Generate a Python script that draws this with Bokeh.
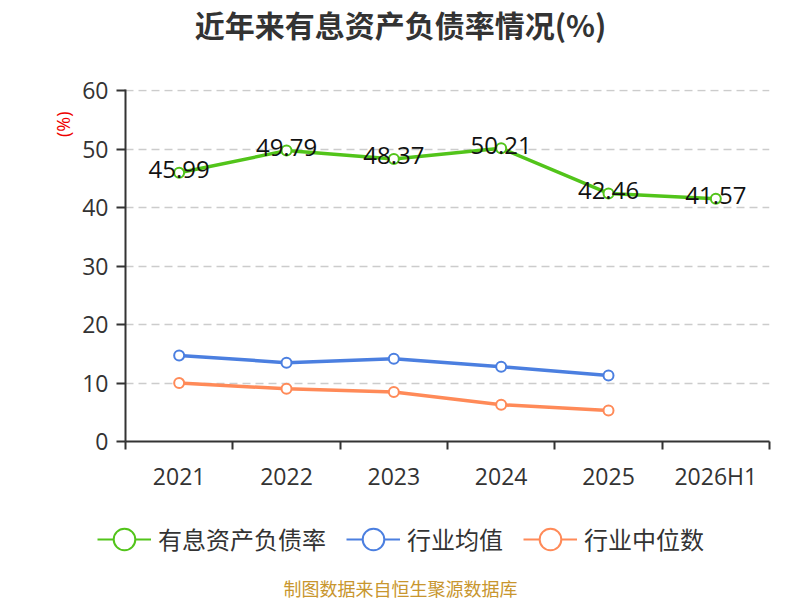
from bokeh.plotting import figure
from bokeh.layouts import column
from bokeh.models import Legend, LegendItem, FixedTicker, Range1d, Title, Label
from bokeh.core.properties import value
from bokeh.embed import file_html
from bokeh.resources import INLINE

categories = ["2021", "2022", "2023", "2024", "2025", "2026H1"]
debt_ratio = [45.99, 49.79, 48.37, 50.21, 42.46, 41.57]
industry_avg = [14.74, 13.49, 14.17, 12.80, 11.31]
industry_median = [10.00, 9.03, 8.46, 6.29, 5.31]
y_ticks = [0, 10, 20, 30, 40, 50, 60]
series_names = ["有息资产负债率", "行业均值", "行业中位数"]
title_text = "近年来有息资产负债率情况(%)"
source_text = "制图数据来自恒生聚源数据库"

GREEN = "#52c41a"
BLUE = "#4b7fe0"
ORANGE = "#ff8a58"
COLORS = [GREEN, BLUE, ORANGE]
CJK = "Noto Sans CJK SC"
NUM = "Open Sans"
W = 800
HEAD_H, MAIN_H, FOOT_H = 50, 450, 100


def blank_fig(h):
    f = figure(width=W, height=h, output_backend="svg", toolbar_location=None,
               x_range=Range1d(0, W), y_range=Range1d(0, h),
               x_axis_location=None, y_axis_location=None, min_border=0,
               frame_align=False)
    f.outline_line_color = None
    f.xgrid.visible = False
    f.ygrid.visible = False
    return f


# ---------- header (title) ----------
head = blank_fig(HEAD_H)
head.add_layout(Label(x=W / 2, y=HEAD_H - 23, text=title_text, text_align="center",
                      text_baseline="middle", text_font=CJK, text_font_size="30px",
                      text_font_style="bold", text_color="#333333"))

# ---------- main chart ----------
p = figure(width=W, height=MAIN_H, output_backend="svg", toolbar_location=None,
           x_range=Range1d(0, len(categories)), y_range=Range1d(y_ticks[0], y_ticks[-1] + 0.25),
           min_border_left=125, min_border_right=31, min_border_top=39, min_border_bottom=59,
           frame_align=False)
p.outline_line_color = None
p.xgrid.visible = False
p.ygrid.ticker = FixedTicker(ticks=y_ticks[1:])
p.ygrid.grid_line_color = "#cccccc"
p.ygrid.grid_line_dash = "8 5"
p.ygrid.grid_line_width = 1.5

xs = [i + 0.5 for i in range(len(categories))]

xa = p.xaxis[0]
xa.ticker = FixedTicker(ticks=xs, minor_ticks=list(range(len(categories) + 1)))
xa.major_label_overrides = {x: c for x, c in zip(xs, categories)}
xa.major_tick_out = 0
xa.major_tick_in = 0
xa.minor_tick_out = 8
xa.minor_tick_in = 0
xa.minor_tick_line_color = "#333333"
xa.minor_tick_line_width = 2
xa.axis_line_color = "#333333"
xa.axis_line_width = 2
xa.major_label_text_font = NUM
xa.major_label_text_font_size = "23px"
xa.major_label_text_color = "#333333"
xa.major_label_standoff = 10

ya = p.yaxis[0]
ya.ticker = FixedTicker(ticks=y_ticks)
ya.major_tick_out = 9
ya.major_tick_in = 0
ya.major_tick_line_color = "#333333"
ya.major_tick_line_width = 2
ya.minor_tick_out = 0
ya.minor_tick_in = 0
ya.axis_line_color = "#333333"
ya.axis_line_width = 2
ya.major_label_text_font = NUM
ya.major_label_text_font_size = "23px"
ya.major_label_text_color = "#333333"
ya.major_label_standoff = 8


def draw(xv, yv, color):
    p.line(xv, yv, line_color=color, line_width=3.5)
    p.scatter(xv, yv, size=10, marker="circle", fill_color="white",
              line_color=color, line_width=2)


draw(xs, debt_ratio, GREEN)
draw(xs[:len(industry_avg)], industry_avg, BLUE)
draw(xs[:len(industry_median)], industry_median, ORANGE)

p.text(xs, debt_ratio, text=[f"{v:.2f}" for v in debt_ratio],
       text_align="center", text_baseline="middle", y_offset=-3,
       text_font=value(NUM), text_font_size="24px", text_color="#111111")

p.add_layout(Title(text="(%)", align="right", offset=22, text_font=NUM,
                   text_font_size="18px", text_font_style="normal",
                   text_color="#ee0000"), "left")

# ---------- footer (legend + source) ----------
foot = blank_fig(FOOT_H)
nan = float("nan")
items = []
for name, color in zip(series_names, COLORS):
    lr = foot.line([nan], [nan], line_color=color, line_width=2)
    sr = foot.scatter([nan], [nan], size=22, marker="circle", fill_color="white",
                      line_color=color, line_width=2)
    items.append(LegendItem(label=name, renderers=[lr, sr]))

LEG_H = 60
legend = Legend(items=items, orientation="horizontal",
                location=(97, FOOT_H - (538.5 - 500 - LEG_H / 2) - LEG_H),
                glyph_width=54, glyph_height=LEG_H, label_standoff=7, spacing=20,
                label_text_font=CJK, label_text_font_size="24px",
                label_text_color="#333333", label_height=LEG_H,
                padding=0, margin=0, background_fill_alpha=0, border_line_alpha=0)
foot.add_layout(legend, "center")

foot.add_layout(Label(x=W / 2, y=FOOT_H - (587 - 500), text=source_text, text_align="center",
                      text_baseline="middle", text_font=CJK, text_font_size="18px",
                      text_color="#c8962e"))

layout = column(head, p, foot, spacing=0)
open("out.html", "w").write(file_html(layout, INLINE))
